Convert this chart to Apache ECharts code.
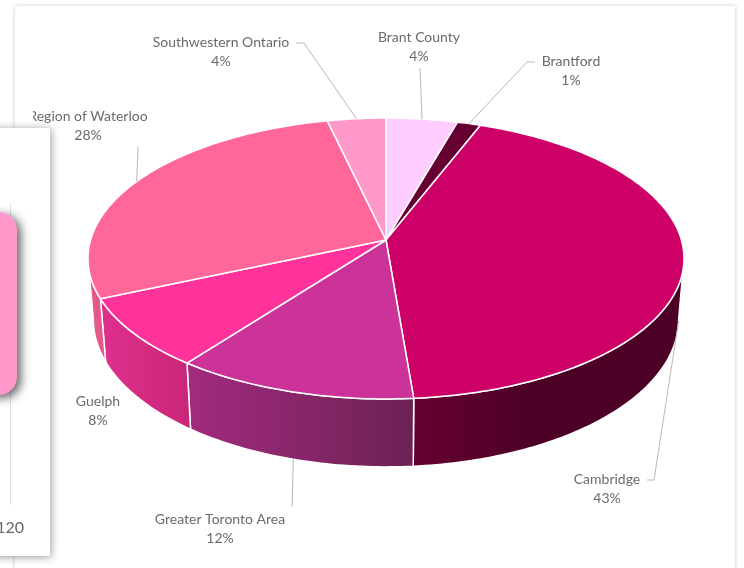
<!DOCTYPE html>
<html>

	<head>
		<meta charset="UTF-8">
		<title></title>
		<script src="https://cdn.jsdelivr.net/npm/echarts@6/dist/echarts.min.js"></script>
		<style>
			html,
			body {
				width: 100%;
				height: 100%;
				margin: 0;
				padding: 0;
				background: #fff;
				overflow: hidden;
			}

			.echart {
				width: 744px;
				height: 568px;
			}
		</style>
	</head>

	<body>
		<div class="echart" id="chart"></div>
	</body>
	<script>
		// slices clockwise from 12 o'clock
		var categories = ['Brant County', 'Brantford', 'Cambridge', 'Greater Toronto Area', 'Guelph', 'Region of Waterloo', 'Southwestern Ontario'];
		var shares = [4.4, 1.45, 42.85, 11.6, 8.1, 28, 3.6];
		var topColors = ['#FFCCFF', '#660033', '#CC0066', '#CC3399', '#FF3399', '#FF6699', '#FF99CC'];
		var wallColors = [
			['#FFCCFF', '#FFCCFF'],
			['#660033', '#660033'],
			['#4D0026', '#660033'],
			['#A32A80', '#6B2253'],
			['#E0308C', '#C92678'],
			['#E4588A', '#E4588A'],
			['#FF99CC', '#FF99CC']
		];

		// tilted disc, perspective projection
		var CX = 386, APEX_Y = 240, AX = 295.4, AY = 138, PERSP = 0.1317;
		var BOTTOM_Y = 300, BOTTOM_SX = 0.982, BOTTOM_SY = 1.05;
		var FRONT_FROM = 97.6, FRONT_TO = 262.4;

		// label centre, elbow of the leader line, leader on bottom rim or not
		var labelLayout = [
			{ x: 419, y: 47, to: [420, 68] },
			{ x: 571, y: 71, to: [535, 62], elbow: [527, 62] },
			{ x: 607, y: 489, to: [647, 480], elbow: [654, 480], bottom: true },
			{ x: 220, y: 529, to: [292, 507], bottom: true },
			{ x: 98, y: 411 },
			{ x: 88, y: 126, to: [138, 147], clip: 33 },
			{ x: 221, y: 52, to: [296, 43], elbow: [304, 43] }
		];

		var total = shares.reduce(function(a, b) { return a + b; }, 0);
		var starts = [];
		shares.reduce(function(sum, v, i) {
			starts[i] = sum / total * 360;
			return sum + v;
		}, 0);

		function rim(deg, isBottom) {
			var r = deg * Math.PI / 180;
			var u = Math.sin(r), v = Math.cos(r), d = 1 + PERSP * v;
			if(isBottom) {
				return [CX + BOTTOM_SX * AX * u / d, BOTTOM_Y - BOTTOM_SY * AY * v / d];
			}
			return [CX + AX * u / d, APEX_Y - AY * v / d];
		}

		function arc(from, to, isBottom) {
			var pts = [];
			var n = Math.max(2, Math.ceil(to - from));
			for(var i = 0; i <= n; i++) {
				pts.push(rim(from + (to - from) * i / n, isBottom));
			}
			return pts;
		}

		function renderWall(params, api) {
			var i = params.dataIndex;
			var from = Math.max(starts[i], FRONT_FROM);
			var to = Math.min(starts[i] + api.value(0) / total * 360, FRONT_TO);
			if(to <= from) return { type: 'group', children: [] };
			return {
				type: 'polygon',
				shape: { points: arc(from, to, false).concat(arc(from, to, true).reverse()) },
				style: {
					fill: {
						type: 'linear', x: 0, y: 0, x2: 1, y2: 0,
						colorStops: [
							{ offset: 0, color: wallColors[i][i == 2 ? 1 : 0] },
							{ offset: i == 2 ? 0.45 : 1, color: wallColors[i][i == 2 ? 0 : 1] },
							{ offset: 1, color: wallColors[i][i == 2 ? 0 : 1] }
						]
					},
					stroke: '#fff',
					lineWidth: 1.5
				}
			};
		}

		function renderTop(params, api) {
			var i = params.dataIndex;
			var to = starts[i] + api.value(0) / total * 360;
			return {
				type: 'polygon',
				shape: { points: [[CX, APEX_Y]].concat(arc(starts[i], to, false)) },
				style: { fill: topColors[i], stroke: '#fff', lineWidth: 1.5, lineJoin: 'round' }
			};
		}

		function renderLabel(params, api) {
			var i = params.dataIndex;
			var value = api.value(0);
			var lay = labelLayout[i];
			var children = [];
			if(lay.to) {
				var mid = starts[i] + value / total * 180;
				var pts = [rim(mid, lay.bottom)];
				if(lay.elbow) pts.push(lay.elbow);
				pts.push(lay.to);
				children.push({
					type: 'polyline',
					shape: { points: pts },
					style: { fill: null, stroke: '#B8B8B8', lineWidth: 1 }
				});
			}
			var text = {
				type: 'group',
				children: [{
					type: 'text',
					x: lay.x,
					y: lay.y,
					style: {
						text: categories[i] + '\n' + Math.round(value / total * 100) + '%',
						x: 0, y: 0,
						align: 'center',
						verticalAlign: 'middle',
						font: '14px Lato',
						lineHeight: 19,
						fill: '#6A6A6A'
					}
				}]
			};
			if(lay.clip) {
				text.clipPath = { type: 'rect', shape: { x: lay.clip, y: lay.y - 30, width: 200, height: 60 } };
			}
			children.push(text);
			return { type: 'group', children: children };
		}

		var chart = echarts.init(document.getElementById('chart'));
		chart.setOption({
			backgroundColor: '#fff',
			animation: false,
			graphic: [
				// dashboard tile behind the pie
				{ type: 'rect', z: 0, shape: { x: 15, y: 6, width: 720, height: 580 }, style: { fill: '#fff', shadowBlur: 4, shadowColor: 'rgba(0,0,0,0.22)' } },
				// card of the neighbouring chart, cut by the screenshot
				{ type: 'rect', z: 1, shape: { x: -40, y: 128, width: 90, height: 428 }, style: { fill: '#fff', shadowBlur: 8, shadowOffsetX: 1, shadowOffsetY: 1, shadowColor: 'rgba(0,0,0,0.4)' } },
				{ type: 'line', z: 2, shape: { x1: 10.5, y1: 203, x2: 10.5, y2: 505 }, style: { stroke: '#E0E0E0', lineWidth: 1 } },
				{ type: 'rect', z: 3, shape: { x: -60, y: 212, width: 77, height: 183, r: 18 }, style: { fill: '#FF99CC', shadowBlur: 10, shadowOffsetX: 4, shadowOffsetY: 3, shadowColor: 'rgba(0,0,0,0.6)' } },
				{ type: 'text', z: 4, x: 24, y: 528, style: { text: '120', align: 'right', verticalAlign: 'middle', font: '16px Lato', fill: '#6A6A6A' } }
			],
			series: [
				{ type: 'custom', coordinateSystem: 'none', z: 2, data: shares, renderItem: renderWall, silent: true },
				{ type: 'custom', coordinateSystem: 'none', z: 3, data: shares, renderItem: renderTop, silent: true },
				{ type: 'custom', coordinateSystem: 'none', z: 4, data: shares, renderItem: renderLabel, silent: true }
			]
		});
	</script>

</html>
